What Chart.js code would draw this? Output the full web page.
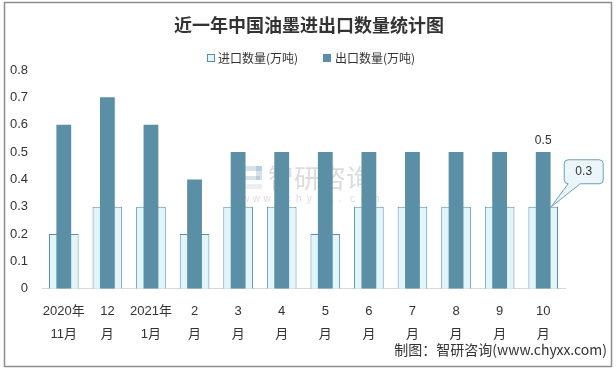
<!DOCTYPE html>
<html><head><meta charset="utf-8">
<script src="https://cdn.jsdelivr.net/npm/chart.js@4/dist/chart.umd.min.js"></script>
<style>html,body{margin:0;padding:0;background:#fff}#wrap{width:616px;height:369px;position:relative}</style>
</head><body><div id="wrap"><canvas id="c" width="616" height="369"></canvas></div>
<script>
const categories = [["2020年","11月"],["12","月"],["2021年","1月"],["2","月"],["3","月"],["4","月"],["5","月"],["6","月"],["7","月"],["8","月"],["9","月"],["10","月"]];
const importValues = [0.2,0.3,0.3,0.2,0.3,0.3,0.2,0.3,0.3,0.3,0.3,0.3];
const exportValues = [0.6,0.7,0.6,0.4,0.5,0.5,0.5,0.5,0.5,0.5,0.5,0.5];
const yTicks = [0,0.1,0.2,0.3,0.4,0.5,0.6,0.7,0.8];
const seriesNames = ["进口数量(万吨)","出口数量(万吨)"];
const titleText = "近一年中国油墨进出口数量统计图";
const sourceText = "制图：智研咨询(www.chyxx.com)";

const FONT = "'Liberation Sans','Noto Sans CJK SC',sans-serif";
const dark = "#5A8FA6";
const light = "#E2F5FB";

const extras = {
  id: 'extras',
  beforeDraw(chart){
    const ctx = chart.ctx;
    ctx.save();
    ctx.fillStyle = '#fff'; ctx.fillRect(0,0,chart.width,chart.height);
    ctx.strokeStyle = '#8c8c8c'; ctx.lineWidth = 1.5;
    ctx.strokeRect(4.5,2.5,607,364);
    // title
    ctx.fillStyle = '#333';
    ctx.font = "bold 18px 'Noto Sans CJK SC'";
    ctx.textAlign = 'center'; ctx.textBaseline = 'middle';
    ctx.fillText(titleText, 309, 25);
    // legend
    ctx.font = "12px 'Noto Sans CJK SC'";
    ctx.textAlign = 'left';
    ctx.fillStyle = light; ctx.strokeStyle = dark; ctx.lineWidth = 1;
    ctx.fillRect(207.5,54.5,7,7); ctx.strokeRect(207.5,54.5,7,7);
    ctx.fillStyle = '#333'; ctx.fillText(seriesNames[0], 218, 58);
    ctx.fillStyle = dark; ctx.fillRect(323,54,8,8);
    ctx.fillStyle = '#333'; ctx.fillText(seriesNames[1], 335, 58);
    ctx.restore();
  },
  beforeDatasetsDraw(chart){
    const ctx = chart.ctx; ctx.save();
    // watermark
    ctx.globalAlpha = 0.3;
    ctx.fillStyle = '#7a9cc0';
    ctx.fillRect(238,166,6,22); ctx.fillRect(244,166,18,5); ctx.fillRect(256,166,6,14); ctx.fillRect(244,176,16,4);
    ctx.fillStyle = '#b5c9de'; ctx.fillRect(238,184,24,5);
    ctx.fillStyle = '#8a8a8a';
    ctx.font = "26px 'Noto Sans CJK SC'";
    ctx.textBaseline = 'middle'; ctx.textAlign='left';
    ctx.fillText('智研咨询',268,178);
    ctx.font = "10px 'Liberation Sans'";
    'www.chyxx.com'.split('').forEach((ch,i)=>ctx.fillText(ch,242+i*10.8,199));
    ctx.restore();
  },
  afterDatasetsDraw(chart){
    const ctx = chart.ctx; ctx.save();
    const last = importValues.length-1;
    const eb = chart.getDatasetMeta(1).data[last];
    const ib = chart.getDatasetMeta(0).data[last];
    ctx.fillStyle = '#333';
    ctx.font = "12px " + FONT;
    ctx.textAlign='center'; ctx.textBaseline='bottom';
    ctx.fillText(String(exportValues[last]), eb.x, eb.y-5);
    // callout
    const bx = ib.x + 21, by = ib.y - 47, bw = 39, bh = 24, r = 4;
    const tipX = eb.x + 8, tipY = ib.y;
    ctx.beginPath();
    ctx.moveTo(bx+r,by); ctx.lineTo(bx+bw-r,by); ctx.quadraticCurveTo(bx+bw,by,bx+bw,by+r);
    ctx.lineTo(bx+bw,by+bh-r); ctx.quadraticCurveTo(bx+bw,by+bh,bx+bw-r,by+bh);
    ctx.lineTo(bx+16,by+bh); ctx.lineTo(tipX,tipY); ctx.lineTo(bx+4,by+bh);
    ctx.lineTo(bx+r,by+bh); ctx.quadraticCurveTo(bx,by+bh,bx,by+bh-r);
    ctx.lineTo(bx,by+r); ctx.quadraticCurveTo(bx,by,bx+r,by);
    ctx.closePath();
    ctx.fillStyle = '#EAF6F9'; ctx.fill();
    ctx.strokeStyle = '#6f9fb4'; ctx.lineWidth = 1; ctx.stroke();
    ctx.fillStyle = '#333'; ctx.textBaseline='middle';
    ctx.fillText(String(importValues[last]), bx+bw/2, by+bh/2);
    // source
    ctx.font = "14px 'Noto Sans CJK SC'";
    ctx.textAlign='right'; ctx.textBaseline='middle';
    ctx.fillStyle = '#333';
    ctx.fillText(sourceText, 607, 350);
    ctx.restore();
  }
};

new Chart(document.getElementById('c'), {
  type: 'bar',
  data: {
    labels: categories,
    datasets: [
      { label: seriesNames[0], data: importValues, backgroundColor: light, borderColor: dark, borderWidth: 1,
        grouped: false, order: 1, barPercentage: 0.68, categoryPercentage: 1 },
      { label: seriesNames[1], data: exportValues, backgroundColor: dark, borderColor: dark, borderWidth: 0,
        grouped: false, order: 0, barPercentage: 0.34, categoryPercentage: 1 }
    ]
  },
  options: {
    responsive: false, animation: false,
    layout: { padding: { left: 8, right: 51, top: 70, bottom: 12 } },
    plugins: {
      title: { display: false },
      legend: { display: false },
      tooltip: { enabled: false }
    },
    scales: {
      x: { grid: { display: false, drawTicks: false }, border: { display: true, color: '#d9d9d9', width: 1 },
        ticks: { color: '#333', font: { family: FONT, size: 13, lineHeight: 1.7 }, padding: 12, maxRotation: 0, autoSkip: false } },
      y: { min: 0, max: 0.8, grid: { display: false, drawTicks: false }, border: { display: false },
        afterBuildTicks(s){ s.ticks = yTicks.map(v=>({value:v})); },
        afterFit(s){ s.width = 34; },
        ticks: { color: '#333', font: { family: FONT, size: 13 }, padding: 14,
          callback: v => String(v) } }
    }
  },
  plugins: [extras]
});
</script></body></html>
